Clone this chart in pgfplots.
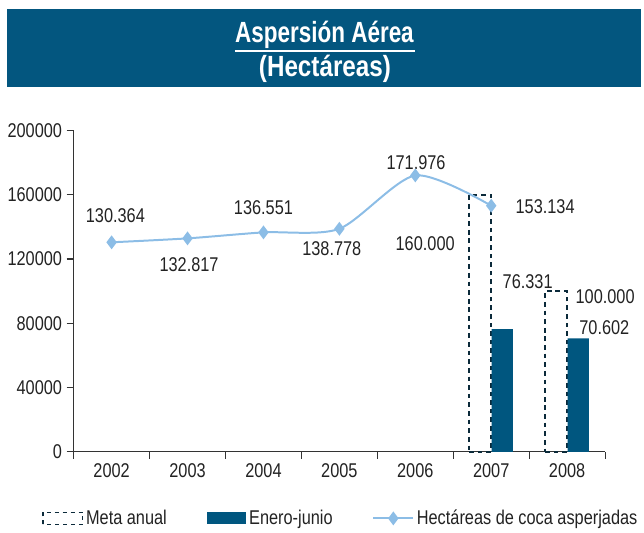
\documentclass[border=0pt]{standalone}
\usepackage{fontspec}
\setmainfont{Liberation Sans}[FakeStretch=0.82]
\newfontfamily\titlefont{Liberation Sans}[FakeStretch=0.77]
\newfontfamily\subtitlefont{Liberation Sans}[FakeStretch=0.83]
\usepackage{pgfplots}
\pgfplotsset{compat=1.18}

\definecolor{banner}{HTML}{03567F}
\definecolor{barcol}{HTML}{00567F}
\definecolor{metacol}{HTML}{0B2A3A}
\definecolor{linecol}{HTML}{8CBDE6}
\definecolor{txt}{HTML}{222222}

\newcommand{\lbl}{\fontsize{15}{17}\selectfont}

\pgfplotsset{
  metalegend/.style={legend image code/.code={
    \draw[metacol, line width=1.3pt, dash pattern=on 3pt off 3pt] (0pt,-4.5pt) rectangle (30pt,4.5pt);}},
  barlegend/.style={legend image code/.code={
    \fill[barcol] (0pt,-4.5pt) rectangle (30pt,4.5pt);}},
  linelegend/.style={legend image code/.code={
    \draw[linecol, line width=1.5pt] (0pt,0pt) -- (30pt,0pt);
    \fill[linecol] (15pt,4pt) -- (18pt,0pt) -- (15pt,-4pt) -- (12pt,0pt) -- cycle;}},
}

\begin{document}
\begin{tikzpicture}
% banner and page frame, in pixel units of the reference
\begin{scope}[x=0.75pt,y=-0.75pt]
  \path[use as bounding box] (0,0) rectangle (644,533);
  \fill[banner] (7,9) rectangle (644,87);
  \node[anchor=base, text=white, inner sep=0pt,
        font=\titlefont\bfseries\fontsize{22}{24}\selectfont] at (326,43) {Aspersión Aérea};
  \draw[white, line width=1.5pt] (236,51) -- (417,51);
  \node[anchor=base, text=white, inner sep=0pt,
        font=\subtitlefont\bfseries\fontsize{22}{24}\selectfont] at (326.5,77) {(Hectáreas)};
\end{scope}

\begin{axis}[
  at={(55.5pt,-340.5pt)}, anchor=south west,
  scale only axis,
  width=400.5pt, height=242.25pt,
  xmin=-0.5, xmax=6.5,
  ymin=0, ymax=200000,
  axis lines*=left,
  axis line style={draw=black!80, line width=0.9pt},
  tick align=outside,
  major tick length=5.25pt,
  tick style={draw=black!80, line width=0.8pt},
  xtick={-0.5,0.5,1.5,2.5,3.5,4.5,5.5,6.5},
  x tick label as interval,
  xticklabels={2002,2003,2004,2005,2006,2007,2008},
  ytick={0,40000,80000,120000,160000,200000},
  scaled y ticks=false,
  /pgf/number format/fixed,
  /pgf/number format/1000 sep={},
  /pgf/number format/assume math mode=true,
  tick label style={font=\lbl, text=txt},
  clip=false,
  legend style={at={(0.503,-0.207)}, anchor=center, legend columns=3,
    draw=none, fill=none, font=\lbl, text=txt,
    /tikz/every even column/.append style={column sep=28pt}},
  legend cell align=left,
]

% Meta anual (dotted outline bars)
\addplot[ybar, bar width=0.29, bar shift=-0.145, draw=metacol, fill=none,
  line width=1.3pt, dash pattern=on 3.5pt off 3pt, metalegend]
  coordinates {(5,160000) (6,100000)};
\addlegendentry{Meta anual}

% Enero-junio
\addplot[ybar, bar width=0.28, bar shift=0.145, fill=barcol, draw=none, barlegend]
  coordinates {(5,76331) (6,70602)};
\addlegendentry{Enero-junio}

% Hectareas de coca asperjadas
\addplot[linecol, line width=1.5pt, smooth, tension=0.45,
  mark=diamond*, mark size=4pt, mark options={fill=linecol, solid}, linelegend]
  coordinates {(0,130364) (1,132817) (2,136551) (3,138778) (4,171976) (5,153134)};
\addlegendentry{Hectáreas de coca asperjadas}

% data labels
\node[font=\lbl, text=txt] at (axis cs:0.05,146750) {130.364};
\node[font=\lbl, text=txt] at (axis cs:1.02,116400) {132.817};
\node[font=\lbl, text=txt] at (axis cs:2.0,151700) {136.551};
\node[font=\lbl, text=txt] at (axis cs:2.9,126300) {138.778};
\node[font=\lbl, text=txt] at (axis cs:4.01,180200) {171.976};
\node[font=\lbl, text=txt] at (axis cs:4.13,129400) {160.000};
\node[font=\lbl, text=txt] at (axis cs:5.71,152300) {153.134};
\node[font=\lbl, text=txt] at (axis cs:5.48,105900) {76.331};
\node[font=\lbl, text=txt] at (axis cs:6.5,96600) {100.000};
\node[font=\lbl, text=txt] at (axis cs:6.49,77400) {70.602};

\end{axis}
\end{tikzpicture}
\end{document}
